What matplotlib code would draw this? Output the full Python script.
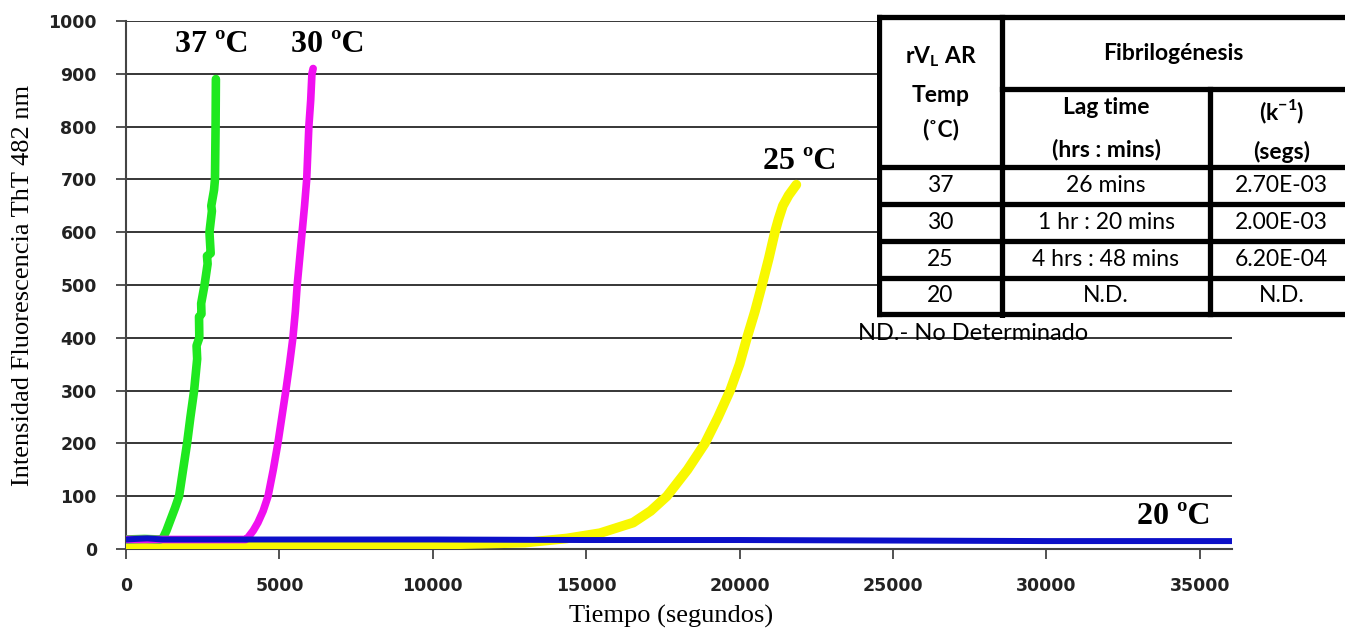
import matplotlib
matplotlib.use("Agg")
import matplotlib.pyplot as plt

# time (s) / ThT fluorescence
green_t = [0, 600, 1100, 1200, 1320, 1450, 1600, 1730, 1860, 1990, 2100, 2220, 2320, 2300,
           2390, 2380, 2460, 2450, 2560, 2660, 2640, 2760, 2720, 2800, 2780, 2870, 2900, 2920, 2930]
green_y = [18, 19, 18, 20, 35, 55, 78, 100, 150, 200, 250, 300, 360, 385,
           400, 440, 445, 465, 500, 540, 555, 560, 600, 640, 650, 680, 700, 800, 890]

magenta_t = [0, 2000, 3900, 3980, 4150, 4300, 4470, 4630, 4800, 4950, 5080, 5210, 5330, 5440,
             5520, 5580, 5660, 5740, 5820, 5890, 5960, 6020, 6060, 6100]
magenta_y = [18, 18, 18, 22, 35, 50, 72, 100, 150, 200, 250, 300, 350, 400,
             450, 500, 550, 600, 650, 700, 800, 850, 900, 910]

yellow_t = [0, 5000, 10000, 13000, 14370, 15450, 16530, 17100, 17630, 18300, 18870, 19300,
            19690, 20000, 20240, 20500, 20730, 20950, 21150, 21270, 21410, 21600, 21850]
yellow_y = [6, 7, 8, 12, 20, 30, 50, 72, 100, 150, 200, 250,
            300, 350, 400, 450, 500, 550, 600, 625, 650, 670, 690]

blue_t = [0, 300, 700, 1200, 5000, 10000, 15000, 20000, 25000, 30000, 36100]
blue_y = [18, 19, 20, 18, 18, 18, 17, 17, 16, 15, 15]

curve_labels = ["37 ºC", "30 ºC", "25 ºC", "20 ºC"]
label_pos = [(2800, 955), (6580, 955), (21970, 733), (34160, 62)]

x_ticks = [0, 5000, 10000, 15000, 20000, 25000, 30000, 35000]
y_ticks = [0, 100, 200, 300, 400, 500, 600, 700, 800, 900, 1000]

# table contents
table_temps = ["37", "30", "25", "20"]
table_lag = ["26 mins", "1 hr : 20 mins", "4 hrs : 48 mins", "N.D."]
table_k = ["2.70E-03", "2.00E-03", "6.20E-04", "N.D."]

W, H = 1345, 631
plt.rcParams["mathtext.fontset"] = "custom"
plt.rcParams["mathtext.bf"] = "Lato:bold"
plt.rcParams["mathtext.rm"] = "Lato"

fig = plt.figure(figsize=(W / 100, H / 100), dpi=100)
ax = fig.add_axes([126 / W, 1 - 549 / H, (1232 - 126) / W, (549 - 21) / H])

ax.plot(yellow_t, yellow_y, color="#f8f800", lw=7, solid_capstyle="round", zorder=3)
ax.plot(green_t, green_y, color="#1fe81f", lw=6.2, solid_capstyle="round",
        solid_joinstyle="round", zorder=4)
ax.plot(magenta_t, magenta_y, color="#f010f0", lw=5.5, solid_capstyle="round", zorder=4)
ax.plot(blue_t, blue_y, color="#0c10c8", lw=4.3, zorder=5)

ax.set_xlim(0, 36050)
ax.set_ylim(0, 1000)
ax.set_xticks(x_ticks)
ax.set_yticks(y_ticks)
ax.grid(axis="y", color="black", lw=1.1)
ax.set_axisbelow(True)
for s in ["top", "right"]:
    ax.spines[s].set_visible(False)
ax.spines["left"].set_color("#444444")
ax.spines["bottom"].set_color("#444444")
ax.spines["left"].set_linewidth(1.5)
ax.spines["bottom"].set_linewidth(1.5)
ax.tick_params(axis="both", direction="out", length=7, width=1.2, color="#333333",
               labelsize=12.5, labelcolor="#222222")
ax.tick_params(axis="x", pad=13)
ax.tick_params(axis="y", pad=14)
for lbl in ax.get_xticklabels() + ax.get_yticklabels():
    lbl.set_fontweight("bold")

ax.set_xlabel("Tiempo (segundos)", family="Liberation Serif", fontsize=19)
ax.set_ylabel("Intensidad Fluorescencia ThT 482 nm", family="Liberation Serif",
              fontsize=19, labelpad=10)
ax.xaxis.set_label_coords((671 - 126) / (1232 - 126), -0.105)

for txt, (xv, yv) in zip(curve_labels, label_pos):
    ax.text(xv, yv, txt, family="Liberation Serif", fontweight="bold", fontsize=23,
            ha="center", va="center", zorder=6)

# table drawn in pixel coordinates
tax = fig.add_axes([877 / W, 1 - 318 / H, (W - 877) / W, (318 - 14) / H], zorder=10)
tax.set_xlim(877, W)
tax.set_ylim(318, 14)
tax.axis("off")
tax.add_patch(plt.Rectangle((877, 14), W - 877, 304, color="white", zorder=0))

col_x = [879, 1002, 1210, W + 5]
row_y = [17, 89, 167, 204, 241, 278, 314]
lw_tab = 3.8
tax.plot([col_x[0], col_x[-1]], [row_y[0]] * 2, color="black", lw=lw_tab)
tax.plot([col_x[1], col_x[-1]], [row_y[1]] * 2, color="black", lw=lw_tab)
for y in row_y[2:]:
    tax.plot([col_x[0], col_x[-1]], [y, y], color="black", lw=lw_tab)
tax.plot([col_x[0]] * 2, [row_y[0], row_y[-1]], color="black", lw=lw_tab)
tax.plot([col_x[1]] * 2, [row_y[0], row_y[-1] + 4], color="black", lw=lw_tab)
tax.plot([col_x[2]] * 2, [row_y[1], row_y[-1]], color="black", lw=lw_tab)

tfont = dict(family=["Lato", "DejaVu Sans"], fontsize=16.5, ha="center", va="center")
cx0 = (col_x[0] + col_x[1]) / 2
cx1 = (col_x[1] + col_x[2]) / 2
cx2 = (col_x[2] + W) / 2 + 4
tax.text(cx0, 57, r"rV$_\mathbf{L}$ AR", fontweight="bold", **tfont)
tax.text(cx0, 95, "Temp", fontweight="bold", **tfont)
tax.text(cx0, 130, "(˚C)", fontweight="bold", **tfont)
tax.text((col_x[1] + W) / 2, 53, "Fibrilogénesis", fontweight="bold", **tfont)
tax.text(cx1, 108, "Lag time", fontweight="bold", **tfont)
tax.text(cx1, 150, "(hrs : mins)", fontweight="bold", **tfont)
tax.text(cx2, 112, r"(k$^{\mathbf{-1}}$)", fontweight="bold", **tfont)
tax.text(cx2, 152, "(segs)", fontweight="bold", **tfont)
for i in range(len(table_temps)):
    yc = (row_y[i + 2] + row_y[i + 3]) / 2
    tax.text(cx0, yc, table_temps[i], **tfont)
    tax.text(cx1, yc, table_lag[i], **tfont)
    tax.text(cx2, yc, table_k[i], **tfont)

fig.text(858 / W, 1 - 333 / H, "ND.- No Determinado", family=["Lato", "DejaVu Sans"],
         fontsize=17, ha="left", va="center", zorder=11)

fig.savefig("out.png", dpi=100, facecolor="white")
